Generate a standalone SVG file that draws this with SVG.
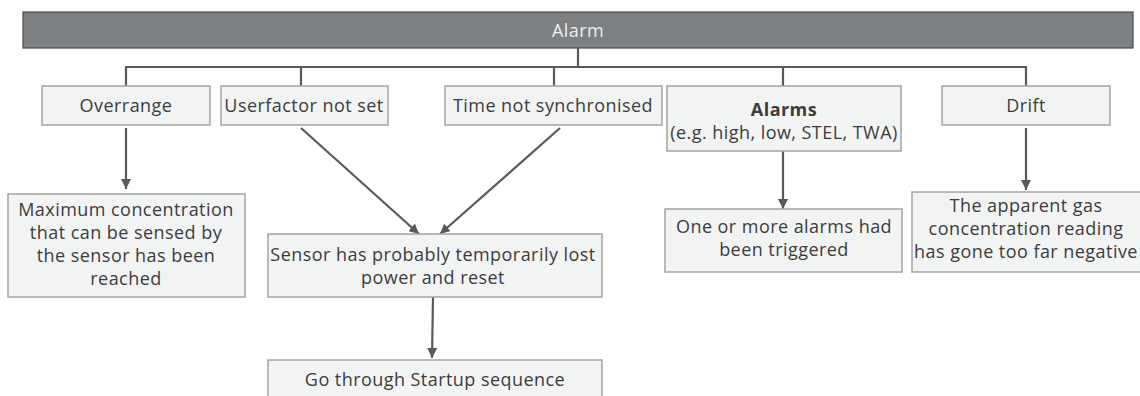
<svg xmlns="http://www.w3.org/2000/svg" width="1140" height="396" viewBox="0 0 1140 396">
<style>
.box{fill:#f2f3f3;stroke:#a4a4a4;stroke-width:1.5}
.t{font-family:"Open Sans","Liberation Sans",sans-serif;font-size:18px;letter-spacing:0.45px;fill:#3c3c3c;text-anchor:middle}
.c{fill:none;stroke:#58595b;stroke-width:2.2}
</style>
<defs>
<marker id="ah" markerWidth="10" markerHeight="10" viewBox="0 0 10 10" refX="10" refY="5" orient="auto" markerUnits="userSpaceOnUse">
<path d="M0,0 L10,5 L0,10 Z" fill="#58595b"/>
</marker>
</defs>
<g id="alarm">
<rect x="23" y="12" width="1110" height="36" fill="#7d8083" stroke="#4a4a4a" stroke-width="1.2"/>
<text class="t" x="578" y="37" style="fill:#eeeeee">Alarm</text>
</g>
<g id="connectors">
<path class="c" d="M578,48 V67 M126,86 V67 H1026 V86 M301,67 V86 M554,67 V86 M783,67 V86"/>
<path class="c" d="M126,128 V189" marker-end="url(#ah)"/>
<path class="c" d="M301,128 L419,234" marker-end="url(#ah)"/>
<path class="c" d="M560,128 L440,234" marker-end="url(#ah)"/>
<path class="c" d="M433,297 L432,358" marker-end="url(#ah)"/>
<path class="c" d="M783,151 V209" marker-end="url(#ah)"/>
<path class="c" d="M1026,128 V190" marker-end="url(#ah)"/>
</g>
<g id="overrange">
<rect class="box" x="42" y="86" width="168" height="39"/>
<text class="t" x="126" y="112">Overrange</text>
</g>
<g id="userfactor">
<rect class="box" x="221" y="86" width="167" height="39"/>
<text class="t" x="304" y="112">Userfactor not set</text>
</g>
<g id="timesync">
<rect class="box" x="445" y="86" width="217" height="39"/>
<text class="t" x="553" y="112">Time not synchronised</text>
</g>
<g id="alarms">
<rect class="box" x="667" y="86" width="234" height="65"/>
<text class="t" x="784" y="116" style="font-weight:bold">Alarms</text>
<text class="t" x="784" y="139">(e.g. high, low, STEL, TWA)</text>
</g>
<g id="drift">
<rect class="box" x="942" y="86" width="168" height="39"/>
<text class="t" x="1026" y="112">Drift</text>
</g>
<g id="maxconc">
<rect class="box" x="8" y="194" width="237" height="103"/>
<text class="t" x="126" y="216">Maximum concentration</text>
<text class="t" x="126" y="239">that can be sensed by</text>
<text class="t" x="126" y="262">the sensor has been</text>
<text class="t" x="126" y="285">reached</text>
</g>
<g id="sensor">
<rect class="box" x="268" y="234" width="334" height="63"/>
<text class="t" x="433" y="261">Sensor has probably temporarily lost</text>
<text class="t" x="433" y="284">power and reset</text>
</g>
<g id="startup">
<rect class="box" x="268" y="360" width="334" height="45"/>
<text class="t" x="435" y="386">Go through Startup sequence</text>
</g>
<g id="triggered">
<rect class="box" x="665" y="209" width="237" height="63"/>
<text class="t" x="784" y="233">One or more alarms had</text>
<text class="t" x="784" y="256">been triggered</text>
</g>
<g id="negative">
<rect class="box" x="912" y="192" width="230" height="80"/>
<text class="t" x="1026" y="212">The apparent gas</text>
<text class="t" x="1026" y="235">concentration reading</text>
<text class="t" x="1026" y="258">has gone too far negative</text>
</g>
</svg>
